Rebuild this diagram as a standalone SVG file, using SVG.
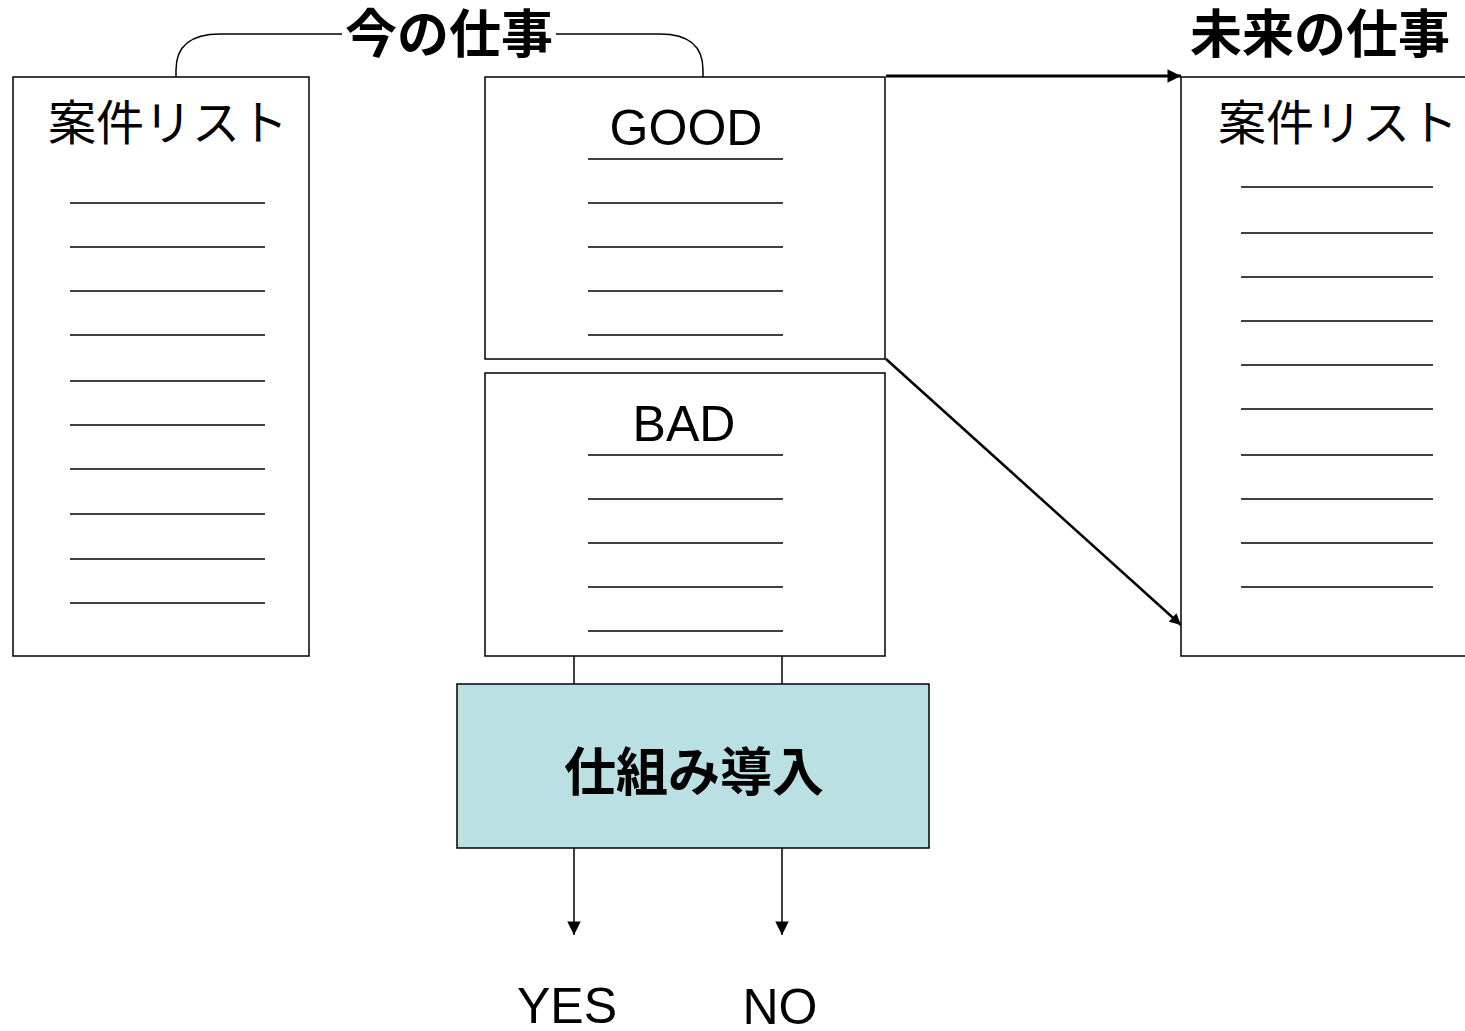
<svg xmlns="http://www.w3.org/2000/svg" width="1465" height="1031" viewBox="0 0 1465 1031">
<style>
.box{fill:#fff;stroke:#000;stroke-width:1.5}
.rule{stroke:#000;stroke-width:1.5}
.jp{font-family:"Liberation Sans","Noto Sans CJK JP",sans-serif;fill:#000}
.lat{font-family:"Liberation Sans",Arial,sans-serif;font-size:50px;fill:#000}
.head{font-family:"Noto Sans CJK JP","Liberation Sans",sans-serif;font-weight:bold;font-size:52px;fill:#000}
.conn{fill:none;stroke:#000}
</style>
<defs>
<marker id="ah" viewBox="0 0 10 10" refX="10" refY="5" markerWidth="5" markerHeight="4.5" orient="auto" markerUnits="strokeWidth">
<path d="M0,0 L10,5 L0,10 z" fill="#000"/>
</marker>
<marker id="ahs" viewBox="0 0 10 10" refX="10" refY="5" markerWidth="11" markerHeight="9" orient="auto" markerUnits="strokeWidth">
<path d="M0,0 L10,5 L0,10 z" fill="#000"/>
</marker>
</defs>
<rect width="1465" height="1031" fill="#fff"/>

<g id="title-now">
<text class="head" x="449" y="53" text-anchor="middle">今の仕事</text>
</g>
<g id="title-future">
<text class="head" x="1320" y="53" text-anchor="middle">未来の仕事</text>
</g>

<g id="list-now">
<rect class="box" x="13" y="77" width="296" height="579"/>
<text class="jp" x="168" y="140" font-size="48" text-anchor="middle">案件リスト</text>
<g class="rule">
<line x1="70" y1="203" x2="265" y2="203"/>
<line x1="70" y1="247" x2="265" y2="247"/>
<line x1="70" y1="291" x2="265" y2="291"/>
<line x1="70" y1="335" x2="265" y2="335"/>
<line x1="70" y1="381" x2="265" y2="381"/>
<line x1="70" y1="425" x2="265" y2="425"/>
<line x1="70" y1="469" x2="265" y2="469"/>
<line x1="70" y1="514" x2="265" y2="514"/>
<line x1="70" y1="559" x2="265" y2="559"/>
<line x1="70" y1="603" x2="265" y2="603"/>
</g>
</g>

<g id="good">
<rect class="box" x="485" y="77" width="400" height="282"/>
<text class="lat" x="686" y="145" text-anchor="middle">GOOD</text>
<g class="rule">
<line x1="588" y1="159" x2="783" y2="159"/>
<line x1="588" y1="203" x2="783" y2="203"/>
<line x1="588" y1="247" x2="783" y2="247"/>
<line x1="588" y1="291" x2="783" y2="291"/>
<line x1="588" y1="335" x2="783" y2="335"/>
</g>
</g>

<g id="bad">
<rect class="box" x="485" y="373" width="400" height="283"/>
<text class="lat" x="684" y="441" text-anchor="middle">BAD</text>
<g class="rule">
<line x1="588" y1="455" x2="783" y2="455"/>
<line x1="588" y1="499" x2="783" y2="499"/>
<line x1="588" y1="543" x2="783" y2="543"/>
<line x1="588" y1="587" x2="783" y2="587"/>
<line x1="588" y1="631" x2="783" y2="631"/>
</g>
</g>

<g id="list-future">
<rect class="box" x="1181" y="77" width="290" height="579"/>
<text class="jp" x="1338" y="140" font-size="48" text-anchor="middle">案件リスト</text>
<g class="rule">
<line x1="1241" y1="187" x2="1433" y2="187"/>
<line x1="1241" y1="233" x2="1433" y2="233"/>
<line x1="1241" y1="277" x2="1433" y2="277"/>
<line x1="1241" y1="321" x2="1433" y2="321"/>
<line x1="1241" y1="365" x2="1433" y2="365"/>
<line x1="1241" y1="409" x2="1433" y2="409"/>
<line x1="1241" y1="455" x2="1433" y2="455"/>
<line x1="1241" y1="499" x2="1433" y2="499"/>
<line x1="1241" y1="543" x2="1433" y2="543"/>
<line x1="1241" y1="587" x2="1433" y2="587"/>
</g>
</g>

<g id="mechanism">
<rect x="457" y="684" width="472" height="164" fill="#BAE0E3" stroke="#000" stroke-width="1.5"/>
<text class="head" x="694" y="791" text-anchor="middle" font-size="54">仕組み導入</text>
</g>

<g id="yes">
<text class="lat" x="567" y="1023" text-anchor="middle">YES</text>
</g>
<g id="no">
<text class="lat" x="780" y="1024" text-anchor="middle">NO</text>
</g>

<g id="connectors">
<path class="conn" stroke-width="1.5" d="M176,77 L176,70 Q176,34 220,34 L342,34"/>
<path class="conn" stroke-width="1.5" d="M556,34 L660,34 Q703,34 703,70 L703,77"/>
<line class="conn" stroke-width="3" x1="886" y1="76" x2="1181" y2="76" marker-end="url(#ah)"/>
<line class="conn" stroke-width="2.5" x1="886" y1="359" x2="1181" y2="625" marker-end="url(#ah)"/>
<line class="conn" stroke-width="1.5" x1="574" y1="656" x2="574" y2="684"/>
<line class="conn" stroke-width="1.5" x1="782" y1="656" x2="782" y2="684"/>
<line class="conn" stroke-width="1.5" x1="574" y1="848" x2="574" y2="935" marker-end="url(#ahs)"/>
<line class="conn" stroke-width="1.5" x1="782" y1="848" x2="782" y2="935" marker-end="url(#ahs)"/>
</g>
</svg>
